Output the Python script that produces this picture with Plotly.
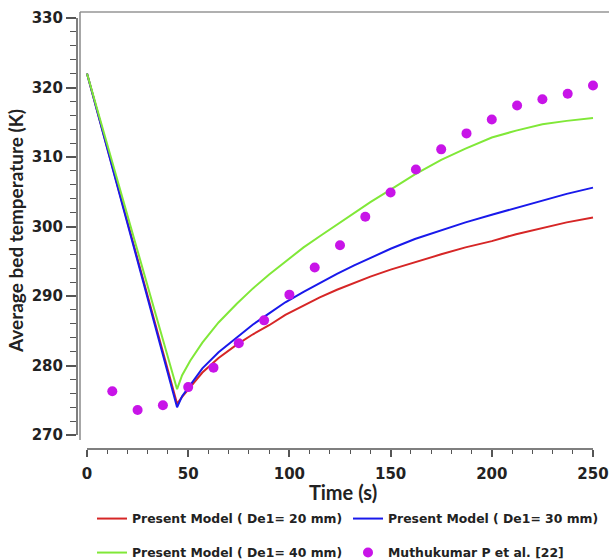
import plotly.graph_objects as go

# Average bed temperature vs time: three model runs and experimental points
t_model = [0, 44.5, 47, 51, 57, 65, 74, 82, 90, 98, 107, 115, 123.5, 132, 140, 150,
           162, 175, 187, 200, 212, 225, 237, 250]

temp_de20 = [322.0, 274.5, 275.5, 276.9, 279.0, 281.1, 283.0, 284.5, 285.8, 287.3, 288.6,
             289.8, 290.9, 291.9, 292.8, 293.8, 294.9, 296.0, 297.0, 297.9, 298.9, 299.8,
             300.6, 301.3]
temp_de30 = [322.0, 274.0, 275.6, 277.2, 279.6, 281.9, 284.0, 285.9, 287.5, 289.1, 290.6,
             291.9, 293.2, 294.4, 295.5, 296.8, 298.2, 299.5, 300.6, 301.7, 302.7, 303.7,
             304.7, 305.6]
temp_de40 = [322.0, 276.6, 278.6, 280.7, 283.3, 286.2, 288.9, 291.1, 293.1, 295.0, 297.0,
             298.6, 300.3, 301.9, 303.5, 305.3, 307.5, 309.6, 311.2, 312.8, 313.8, 314.7,
             315.2, 315.6]

t_exp = [12.5, 25, 37.5, 50, 62.5, 75, 87.5, 100, 112.5, 125, 137.5, 150, 162.5, 175,
         187.5, 200, 212.5, 225, 237.5, 250]
temp_exp = [276.3, 273.6, 274.3, 276.9, 279.7, 283.2, 286.5, 290.2, 294.1, 297.3, 301.4,
            304.9, 308.2, 311.1, 313.4, 315.4, 317.4, 318.3, 319.1, 320.3]

series_names = ["Present Model ( De1= 20 mm)", "Present Model ( De1= 30 mm)",
                "Present Model ( De1= 40 mm)", "Muthukumar P et al. [22]"]

x_ticks = [0, 50, 100, 150, 200, 250]
y_ticks = [270, 280, 290, 300, 310, 320, 330]

# page geometry (pixels)
W, H = 609, 560
LEFT, RIGHT, TOP, BOTTOM = 77, 609, 12, 451
PX_PER_S = 2.024
PX_PER_K = 6.983
X0_PX = 87      # pixel of t = 0
Y270_PX = 437   # pixel of T = 270

x_range = [(LEFT - X0_PX) / PX_PER_S, (RIGHT - X0_PX) / PX_PER_S]
y_range = [270 - (BOTTOM - Y270_PX) / PX_PER_K, 270 + (Y270_PX - TOP) / PX_PER_K]


def px_x(p):
    return (p - LEFT) / (RIGHT - LEFT)


def px_y(p):
    return (BOTTOM - p) / (BOTTOM - TOP)


TICK_FAMILY = "DejaVu Sans"
TITLE_FAMILY = "Lato"
AX_COLOR = "#555555"
TEXT_COLOR = "#222222"

fig = go.Figure()
fig.add_trace(go.Scatter(x=t_model, y=temp_de20, mode="lines", name=series_names[0],
                         line=dict(color="rgb(214,38,38)", width=2), legend="legend"))
fig.add_trace(go.Scatter(x=t_model, y=temp_de30, mode="lines", name=series_names[1],
                         line=dict(color="rgb(25,25,235)", width=2), legend="legend"))
fig.add_trace(go.Scatter(x=t_model, y=temp_de40, mode="lines", name=series_names[2],
                         line=dict(color="rgb(128,232,56)", width=2), legend="legend2"))
fig.add_trace(go.Scatter(x=t_exp, y=temp_exp, mode="markers", name=series_names[3],
                         marker=dict(color="rgb(200,20,232)", size=10), legend="legend2"))

tick_font = dict(family=TICK_FAMILY, size=15, color=TEXT_COLOR, weight="bold")
legend_font = dict(family=TICK_FAMILY, size=12.4, color=TEXT_COLOR, weight="bold")

legend_common = dict(orientation="h", xref="container", yref="container",
                     x=92 / W, xanchor="left", yanchor="middle", font=legend_font,
                     bgcolor="rgba(0,0,0,0)", entrywidth=211, itemclick=False)

fig.update_layout(
    width=W, height=H,
    margin=dict(l=LEFT, r=W - RIGHT, t=TOP, b=H - BOTTOM, pad=0),
    paper_bgcolor="white", plot_bgcolor="white",
    xaxis=dict(
        range=x_range, showgrid=False, zeroline=False, showline=False,
        tickmode="array", tickvals=x_ticks, ticks="outside", ticklen=7, tickwidth=1.5,
        tickcolor=AX_COLOR, tickfont=tick_font, ticklabelstandoff=4,
        minor=dict(dtick=10, tick0=0, ticks="outside", ticklen=4, tickwidth=1.2,
                   tickcolor=AX_COLOR),
        title=dict(text="Time (s)", font=dict(family=TITLE_FAMILY, size=20,
                                              color=TEXT_COLOR, weight="bold"),
                   standoff=7),
    ),
    yaxis=dict(
        range=y_range, showgrid=False, zeroline=False, showline=False,
        tickmode="array", tickvals=y_ticks, ticks="outside", ticklen=10, tickwidth=1.5,
        tickcolor=AX_COLOR, tickfont=tick_font,
        minor=dict(tickmode="array", tickvals=[v for v in range(272, 330, 2) if v % 10],
                   ticks="outside", ticklen=6, tickwidth=1.2, tickcolor=AX_COLOR),
        title=dict(text="Average bed temperature (K)",
                   font=dict(family=TITLE_FAMILY, size=19, color=TEXT_COLOR,
                             weight="bold"),
                   standoff=3),
    ),
    legend=dict(legend_common, y=1 - 519 / H),
    legend2=dict(legend_common, y=1 - 553 / H),
    shapes=[
        # plot frame (top and left edges)
        dict(type="line", xref="paper", yref="paper", x0=px_x(80), x1=1.0,
             y0=1.0, y1=1.0, line=dict(color="#b0b0b0", width=2)),
        dict(type="line", xref="paper", yref="paper", x0=px_x(80), x1=px_x(80),
             y0=px_y(442), y1=1.0, line=dict(color="#8a8a8a", width=1.5)),
        # axis lines
        dict(type="line", xref="paper", yref="y", x0=0, x1=0, y0=y_ticks[0],
             y1=y_ticks[-1], line=dict(color=AX_COLOR, width=1.5)),
        dict(type="line", xref="x", yref="paper", x0=x_ticks[0], x1=x_ticks[-1],
             y0=0, y1=0, line=dict(color=AX_COLOR, width=1.5)),
    ],
)

fig.write_html("out.html")
